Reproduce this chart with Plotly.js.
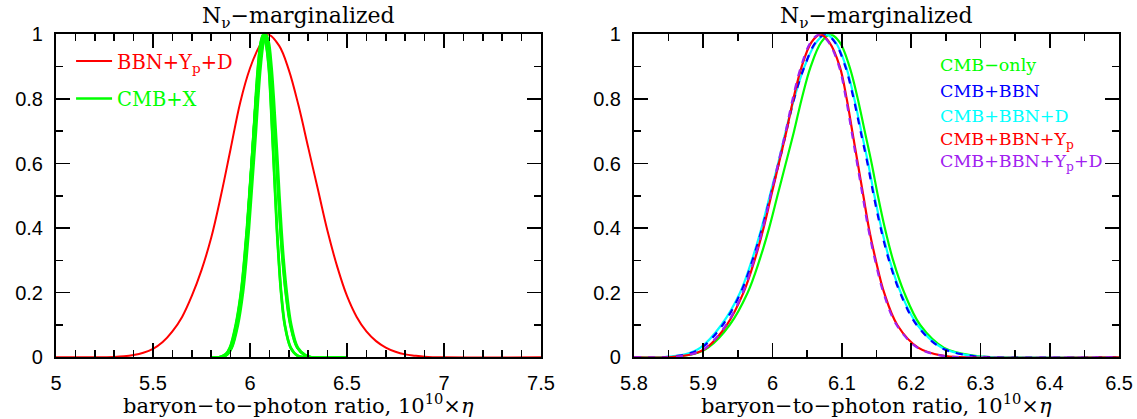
<!DOCTYPE html>
<html>
<head>
<meta charset="utf-8">
<script src="https://cdn.plot.ly/plotly-3.0.1.min.js"></script>
<style>html,body{margin:0;padding:0;background:#fff;}#chart{width:1137px;height:419px;}</style>
</head>
<body>
<div id="chart"></div>
<script>
// ---------- data ----------
// Left panel: BBN+Yp+D
const bbnX = [5.0, 5.2, 5.30, 5.35, 5.40, 5.45, 5.50, 5.55, 5.60, 5.65, 5.70, 5.75, 5.80, 5.85, 5.90, 5.95, 6.00, 6.05, 6.09, 6.15, 6.20, 6.25, 6.30, 6.35, 6.40, 6.45, 6.50, 6.55, 6.60, 6.65, 6.70, 6.75, 6.80, 6.85, 6.90, 7.00, 7.5];
const bbnY = [0, 0, 0.001, 0.003, 0.007, 0.014, 0.026, 0.047, 0.08, 0.125, 0.19, 0.27, 0.37, 0.5, 0.645, 0.79, 0.895, 0.965, 1, 0.965, 0.89, 0.78, 0.65, 0.52, 0.39, 0.28, 0.19, 0.125, 0.08, 0.05, 0.03, 0.017, 0.009, 0.005, 0.002, 0, 0];

// Right panel (and left panel "CMB+X" in green): shared y levels
const levelsY = [0, 0, 0.01, 0.03, 0.1, 0.2, 0.3, 0.4, 0.5, 0.6, 0.7, 0.8, 0.9, 0.975, 1, 0.975, 0.9, 0.8, 0.7, 0.6, 0.5, 0.4, 0.3, 0.2, 0.1, 0.03, 0.005, 0, 0];
const cmbOnlyX     = [5.80, 5.85, 5.886, 5.907, 5.938, 5.964, 5.981, 5.995, 6.007, 6.019, 6.031, 6.042, 6.055, 6.070, 6.083, 6.097, 6.111, 6.123, 6.133, 6.143, 6.152, 6.162, 6.174, 6.190, 6.213, 6.247, 6.290, 6.32, 6.5];
const cmbBbnX      = [5.80, 5.84, 5.877, 5.898, 5.928, 5.954, 5.971, 5.985, 5.997, 6.009, 6.020, 6.031, 6.046, 6.062, 6.076, 6.090, 6.105, 6.117, 6.127, 6.137, 6.146, 6.156, 6.168, 6.184, 6.208, 6.243, 6.285, 6.32, 6.5];
const cmbBbnDX     = [5.80, 5.84, 5.875, 5.896, 5.926, 5.953, 5.970, 5.984, 5.996, 6.008, 6.019, 6.031, 6.046, 6.063, 6.077, 6.091, 6.106, 6.118, 6.128, 6.138, 6.147, 6.157, 6.169, 6.185, 6.209, 6.244, 6.286, 6.32, 6.5];
const cmbBbnYpX    = [5.80, 5.85, 5.885, 5.905, 5.934, 5.958, 5.974, 5.987, 5.998, 6.009, 6.020, 6.030, 6.042, 6.056, 6.069, 6.082, 6.097, 6.107, 6.115, 6.123, 6.131, 6.139, 6.149, 6.161, 6.180, 6.210, 6.245, 6.28, 6.5];
const cmbBbnYpDX   = [5.80, 5.85, 5.884, 5.904, 5.933, 5.957, 5.973, 5.986, 5.997, 6.008, 6.019, 6.029, 6.041, 6.055, 6.068, 6.081, 6.096, 6.106, 6.114, 6.122, 6.130, 6.138, 6.148, 6.160, 6.179, 6.209, 6.244, 6.28, 6.5];

const rightNames  = ["CMB−only", "CMB+BBN", "CMB+BBN+D", "CMB+BBN+Y<sub>p</sub>", "CMB+BBN+Y<sub>p</sub>+D"];
const rightColors = ["#00ff00", "#0000ff", "#00ffff", "#ff0000", "#a020f0"];
const xTickLeft  = [5, 5.5, 6, 6.5, 7, 7.5];
const xTickRight = [5.8, 5.9, 6, 6.1, 6.2, 6.3, 6.4, 6.5];

// ---------- traces ----------
const sp = {shape: 'spline', smoothing: 1};
const traces = [];
const cmbSets = [cmbOnlyX, cmbBbnX, cmbBbnDX, cmbBbnYpX, cmbBbnYpDX];

traces.push({x: bbnX, y: bbnY, xaxis: 'x', yaxis: 'y', mode: 'lines', legendgroup: 'a',
  name: '<span style="color:#ff0000">BBN+Y<sub>p</sub>+D</span>',
  line: Object.assign({color: '#ff0000', width: 2}, sp), hoverinfo: 'skip'});
cmbSets.forEach((xs, i) => {
  traces.push({x: xs, y: levelsY, xaxis: 'x', yaxis: 'y', mode: 'lines', legendgroup: 'b',
    name: '<span style="color:#00ff00">CMB+X</span>', showlegend: i === 0,
    line: Object.assign({color: '#00ff00', width: 2.6}, sp), hoverinfo: 'skip'});
});

// right panel: solid under, dashed on top (alternating look)
const order = [0, 2, 1, 3, 4];
order.forEach(i => {
  const dashed = (i === 1 || i === 4);
  traces.push({x: cmbSets[i], y: levelsY, xaxis: 'x2', yaxis: 'y2', mode: 'lines', showlegend: false,
    name: rightNames[i],
    line: Object.assign({color: rightColors[i], width: 2.2, dash: dashed ? '7px,7px' : 'solid'}, sp), hoverinfo: 'skip'});
});

// ---------- layout ----------
const tickFont = {family: 'Liberation Sans, Arial, sans-serif', size: 20, color: '#000'};
const serif = 'DejaVu Serif, serif';
function xax(domain, range, minor, anchor, ticks) {
  return {domain: domain, range: range, anchor: anchor, tickvals: ticks,
    ticks: 'inside', ticklen: 14, tickwidth: 1.6, tickcolor: '#000',
    minor: {dtick: minor, ticks: 'inside', ticklen: 7, tickwidth: 1.6, tickcolor: '#000', showgrid: false},
    showline: true, linewidth: 2, linecolor: '#000', mirror: 'ticks', showgrid: false, zeroline: false,
    tickfont: tickFont, ticklabelstandoff: 7};
}
function yax(domain, anchor) {
  return {domain: domain, range: [0, 1], anchor: anchor, dtick: 0.2, tick0: 0,
    ticks: 'inside', ticklen: 14, tickwidth: 1.6, tickcolor: '#000',
    minor: {dtick: 0.1, ticks: 'inside', ticklen: 7, tickwidth: 1.6, tickcolor: '#000', showgrid: false},
    showline: true, linewidth: 2, linecolor: '#000', mirror: 'ticks', showgrid: false, zeroline: false,
    tickfont: tickFont, ticklabelstandoff: 7};
}
const yDom = [0.1473, 0.9181];
const layout = {
  width: 1137, height: 419,
  margin: {l: 0, r: 0, t: 0, b: 0},
  paper_bgcolor: '#fff', plot_bgcolor: '#fff',
  showlegend: true,
  xaxis: xax([0.04925, 0.4758], [5, 7.5], 0.1, 'y', xTickLeft),
  yaxis: yax(yDom, 'x'),
  xaxis2: xax([0.5576, 0.9842], [5.8, 6.5], 0.05, 'y2', xTickRight),
  yaxis2: yax(yDom, 'x2'),
  legend: {x: 0.0625, y: 0.9, xanchor: 'left', yanchor: 'top', bgcolor: 'rgba(0,0,0,0)',
    font: {family: serif, size: 19.5}, traceorder: 'grouped', tracegroupgap: 9, itemwidth: 36},
  annotations: []
};
['x', 'x2'].forEach(ax => {
  const yr = ax === 'x' ? 'y domain' : 'y2 domain';
  layout.annotations.push({xref: ax + ' domain', yref: yr, x: 0.5, y: 1, yanchor: 'bottom', xanchor: 'center',
    yshift: 0, showarrow: false, text: 'N<sub>ν</sub>−marginalized', font: {family: serif, size: 22, color: '#000'}});
  layout.annotations.push({xref: ax + ' domain', yref: yr, x: 0.5, y: -0.146, yanchor: 'middle', xanchor: 'center',
    showarrow: false, text: 'baryon−to−photon ratio, 10<sup>10</sup>×<i>η</i>', font: {family: serif, size: 21, color: '#000'}});
});
const legY = [0.905, 0.824, 0.747, 0.672, 0.603];
rightNames.forEach((n, i) => {
  layout.annotations.push({xref: 'x2 domain', yref: 'y2 domain', x: 0.627, y: legY[i],
    xanchor: 'left', yanchor: 'middle', showarrow: false, text: n,
    font: {family: serif, size: 17.5, color: rightColors[i]}});
});

Plotly.newPlot('chart', traces, layout, {staticPlot: true});
</script>
</body>
</html>
